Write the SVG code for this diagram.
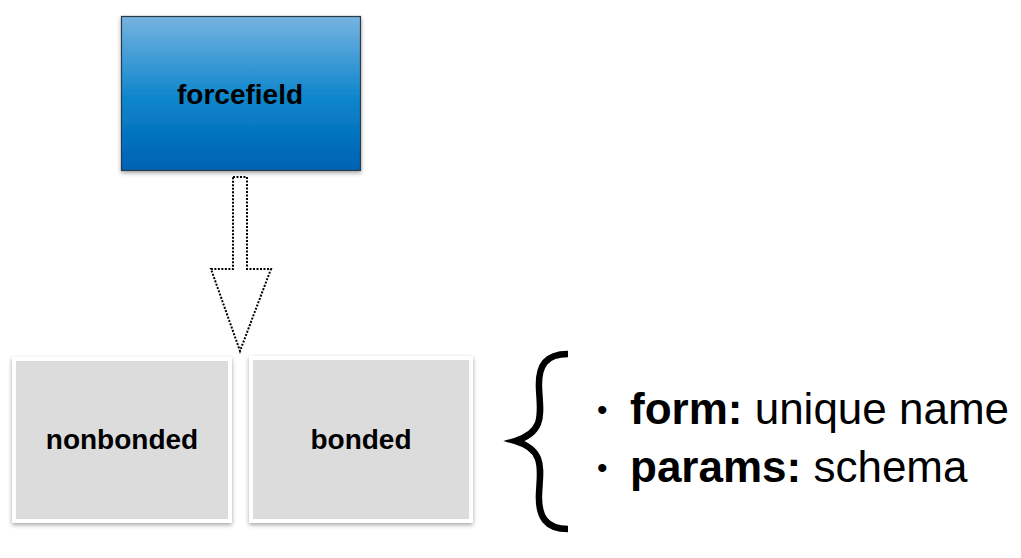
<svg xmlns="http://www.w3.org/2000/svg" width="1021" height="558" viewBox="0 0 1021 558">
  <style>
    .lbl { font-family: "Liberation Sans", Arial, sans-serif; font-weight: bold; font-size: 28px; fill: #000; text-anchor: middle; }
    .bul { font-family: "Liberation Sans", Arial, sans-serif; font-size: 44px; fill: #000; }
    .dot { font-family: "Liberation Sans", Arial, sans-serif; font-size: 30px; fill: #000; }
    .b { font-weight: bold; }
    .gray { fill: #dcdcdc; stroke: #ffffff; stroke-width: 4; }
  </style>
  <defs>
    <linearGradient id="blue" x1="0" y1="0" x2="0" y2="1">
      <stop offset="0" stop-color="#76b3e0"/>
      <stop offset="0.55" stop-color="#0a84cb"/>
      <stop offset="1" stop-color="#0062b2"/>
    </linearGradient>
    <filter id="sh" x="-10%" y="-10%" width="120%" height="125%">
      <feDropShadow dx="0" dy="2" stdDeviation="2" flood-color="#000" flood-opacity="0.35"/>
    </filter>
  </defs>
  <rect width="1021" height="558" fill="#ffffff"/>

  <g id="forcefield">
    <rect x="121.5" y="16.5" width="239" height="154" fill="url(#blue)" stroke="#2a3a4a" stroke-width="1.2" filter="url(#sh)"/>
    <text class="lbl" x="240" y="104">forcefield</text>
  </g>

  <g id="nonbonded">
    <rect class="gray" x="14" y="359" width="216" height="162" filter="url(#sh)"/>
    <text class="lbl" x="122" y="449">nonbonded</text>
  </g>

  <g id="bonded">
    <rect class="gray" x="251" y="358" width="220" height="163" filter="url(#sh)"/>
    <text class="lbl" x="361" y="449">bonded</text>
  </g>

  <g id="connectors">
    <polygon points="233,177 247,177 247,269 271,269 240,351 211,269 233,269" fill="#ffffff" stroke="#000" stroke-width="2" stroke-dasharray="2 1.5"/>
  </g>

  <g id="brace">
    <path d="M 568,354 C 546,354 538,365 539,388 C 540,412 546,432 515,441 C 546,450 540,470 539,494 C 538,517 546,529 568,529" fill="none" stroke="#000" stroke-width="6.5" stroke-linecap="butt"/>
  </g>

  <g id="notes">
    <text class="dot" x="597" y="420">•</text>
    <text class="bul" x="630" y="424"><tspan class="b">form:</tspan> unique name</text>
    <text class="dot" x="597" y="478">•</text>
    <text class="bul" x="630" y="482"><tspan class="b">params:</tspan> schema</text>
  </g>
</svg>
